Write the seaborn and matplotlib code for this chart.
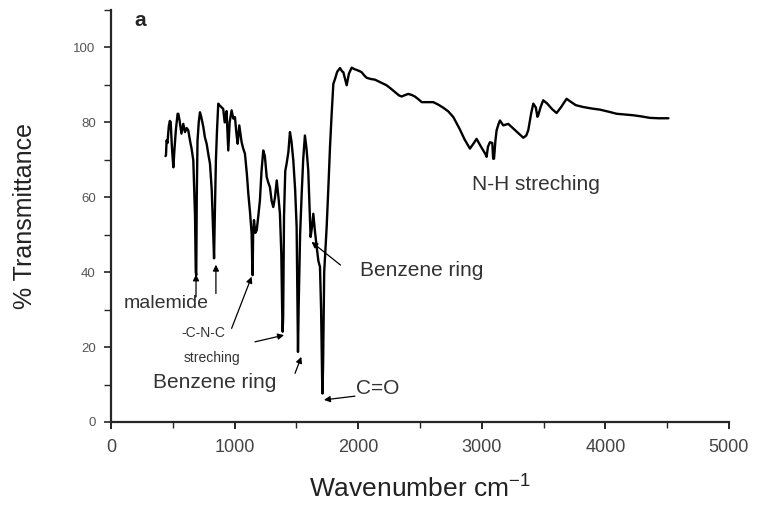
import matplotlib
matplotlib.use("Agg")
import matplotlib.pyplot as plt
import seaborn as sns
import pandas as pd
from matplotlib.ticker import MultipleLocator

wavenumber = [441, 445, 450, 457, 468, 476, 483, 492, 500, 505, 512, 525, 539, 545, 555, 570,
              585, 599, 612, 625, 639, 652, 666, 680, 686, 690, 694, 700, 710, 720, 730, 747,
              760, 774, 790, 801, 815, 828, 834, 840, 849, 858, 868, 880, 895, 908, 920, 935,
              949, 960, 976, 990, 1003, 1015, 1025, 1038, 1047, 1057, 1070, 1084, 1100, 1111,
              1125, 1138, 1143, 1146, 1150, 1157, 1168, 1179, 1192, 1205, 1218, 1232, 1245,
              1260, 1272, 1286, 1300, 1313, 1327, 1341, 1355, 1367, 1378, 1385, 1389, 1393,
              1400, 1410, 1421, 1435, 1448, 1460, 1475, 1490, 1502, 1508, 1513, 1518, 1530,
              1543, 1555, 1569, 1582, 1596, 1606, 1615, 1626, 1637, 1650, 1664, 1678, 1691,
              1700, 1708, 1711, 1716, 1725, 1745, 1758, 1772, 1785, 1799, 1812, 1830, 1853,
              1870, 1880, 1895, 1907, 1925, 1947, 1970, 1988, 2010, 2028, 2050, 2069, 2100,
              2136, 2180, 2230, 2265, 2297, 2330, 2352, 2380, 2405, 2435, 2459, 2490, 2514,
              2560, 2608, 2650, 2689, 2730, 2770, 2800, 2823, 2860, 2904, 2930, 2958, 2985,
              3012, 3030, 3039, 3050, 3066, 3085, 3092, 3099, 3110, 3120, 3135, 3147, 3174,
              3214, 3250, 3300, 3336, 3360, 3376, 3400, 3417, 3437, 3450, 3457, 3475, 3497,
              3530, 3570, 3605, 3640, 3686, 3720, 3760, 3821, 3890, 3956, 4020, 4091, 4160,
              4226, 4290, 4361, 4430, 4510]
transmittance = [71.0, 71.2, 75.2, 74.5, 79.0, 80.4, 80.1, 74.0, 70.0, 68.0, 72.0, 78.0, 82.3, 82.3,
                 80.5, 77.0, 79.6, 77.4, 78.5, 77.9, 75.2, 73.0, 69.9, 55.0, 40.0, 39.2, 60.0,
                 75.0, 80.0, 82.7, 81.5, 78.8, 76.0, 74.3, 71.0, 69.0, 62.0, 50.0, 43.7, 55.0,
                 69.9, 78.0, 85.0, 84.5, 84.0, 83.6, 80.0, 83.0, 72.5, 80.0, 83.2, 81.0, 81.4,
                 77.0, 74.3, 79.2, 77.0, 74.7, 73.0, 71.6, 66.0, 61.0, 56.0, 50.3, 42.0, 39.2,
                 50.0, 53.9, 50.5, 51.2, 55.0, 59.2, 67.0, 72.5, 71.0, 65.4, 64.0, 62.7, 59.0,
                 57.4, 60.0, 64.5, 60.0, 55.6, 45.0, 30.0, 24.1, 28.0, 55.0, 67.0, 69.0, 72.0,
                 77.4, 75.0, 69.9, 62.0, 52.1, 35.0, 18.7, 30.0, 50.0, 61.0, 70.0, 76.5, 73.0,
                 67.2, 58.0, 49.4, 52.0, 55.6, 51.0, 46.8, 43.0, 41.4, 30.0, 12.0, 7.6, 15.0,
                 40.0, 52.1, 62.0, 73.4, 82.0, 90.3, 91.5, 93.5, 94.5, 93.6, 93.4, 91.5, 89.9,
                 93.0, 94.6, 94.2, 94.0, 93.7, 93.4, 92.5, 91.9, 91.6, 91.4, 90.7, 89.9, 89.0,
                 88.1, 87.2, 86.9, 87.3, 87.6, 87.3, 86.9, 86.1, 85.4, 85.4, 85.4, 84.7, 83.9,
                 82.9, 81.4, 79.5, 78.1, 75.5, 73.0, 74.2, 75.6, 74.0, 72.5, 71.5, 70.8, 73.5,
                 74.7, 74.5, 70.3, 70.3, 75.0, 77.9, 79.5, 80.5, 79.2, 79.6, 78.5, 77.0, 75.9,
                 76.5, 77.9, 82.5, 85.0, 84.0, 81.5, 81.9, 84.0, 85.9, 85.0, 83.5, 82.5, 84.0,
                 86.3, 85.5, 84.6, 84.1, 83.7, 83.4, 82.9, 82.3, 82.1, 81.9, 81.6, 81.2, 81.1,
                 81.1]

x_ticks = [0, 1000, 2000, 3000, 4000, 5000]
y_ticks = [0, 20, 40, 60, 80, 100]

sns.set_style("ticks")
plt.rcParams['font.family'] = ['Liberation Sans', 'DejaVu Sans']
plt.rcParams['mathtext.default'] = 'regular'

df = pd.DataFrame({"Wavenumber": wavenumber, "Transmittance": transmittance})

fig = plt.figure(figsize=(7.57, 5.14), dpi=100)
ax = fig.add_axes([0.1466, 0.179, 0.8164, 0.8015])
sns.lineplot(data=df, x="Wavenumber", y="Transmittance", ax=ax, color="black",
             linewidth=1.7, estimator=None, sort=False)

ax.set_xlim(0, 5000)
ax.set_ylim(0, 110)
ax.set_xticks(x_ticks)
ax.set_yticks(y_ticks)
ax.xaxis.set_minor_locator(MultipleLocator(500))
ax.yaxis.set_minor_locator(MultipleLocator(10))
sns.despine(ax=ax)
for s in ("left", "bottom"):
    ax.spines[s].set_linewidth(1.6)
ax.tick_params(axis="x", which="major", length=5, width=1.2, labelsize=13, pad=7, colors="black",
               labelcolor="#444444")
ax.tick_params(axis="x", which="minor", length=4, width=1.0)
ax.tick_params(axis="y", which="major", length=5, width=1.2, labelsize=9.5, pad=6,
               labelcolor="#555555")
ax.tick_params(axis="y", which="minor", length=5, width=1.0)

ax.set_xlabel("Wavenumber cm$^{-1}$", fontsize=19, labelpad=14, color="#222222")
ax.set_ylabel("% Transmittance", fontsize=18, labelpad=26, color="#222222")

tc = "#333333"
ax.text(235, 107.3, "a", fontsize=15, fontweight="bold", ha="center", va="center")
ax.text(449, 31.7, "malemide", fontsize=14, ha="center", va="center", color=tc)
ax.text(748, 23.8, "-C-N-C", fontsize=10, ha="center", va="center", color=tc)
ax.text(817, 17.0, "streching", fontsize=10, ha="center", va="center", color=tc)
ax.text(841, 10.5, "Benzene ring", fontsize=15, ha="center", va="center", color=tc)
ax.text(1985, 9.0, "C=O", fontsize=15, ha="left", va="center", color=tc)
ax.text(2014, 40.5, "Benzene ring", fontsize=15, ha="left", va="center", color=tc)
ax.text(3440, 63.4, "N-H streching", fontsize=15, ha="center", va="center", color=tc)

ap = dict(arrowstyle="-|>", color="black", lw=0.9, mutation_scale=9, shrinkA=0, shrinkB=0)
ax.annotate("", xy=(688, 39.4), xytext=(688, 33.4), arrowprops=ap)
ax.annotate("", xy=(849, 42.0), xytext=(849, 34.3), arrowprops=ap)
ax.annotate("", xy=(1138, 38.8), xytext=(976, 25.0), arrowprops=ap)
ax.annotate("", xy=(1400, 23.2), xytext=(1165, 21.4), arrowprops=ap)
ax.annotate("", xy=(1540, 17.4), xytext=(1489, 13.0), arrowprops=ap)
ax.annotate("", xy=(1723, 5.9), xytext=(1974, 6.9), arrowprops=ap)
ax.annotate("", xy=(1622, 48.1), xytext=(1857, 41.9), arrowprops=ap)

fig.savefig("out.png", dpi=100)
